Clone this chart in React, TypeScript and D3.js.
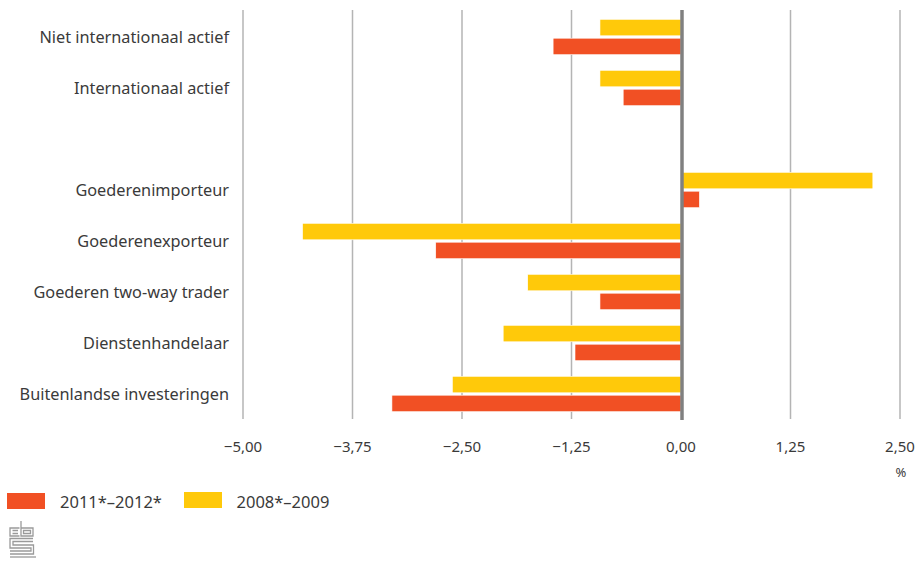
import React from "react";
import * as d3 from "d3";

const categories = [
  "Niet internationaal actief",
  "Internationaal actief",
  "",
  "Goederenimporteur",
  "Goederenexporteur",
  "Goederen two-way trader",
  "Dienstenhandelaar",
  "Buitenlandse investeringen",
];
const series2011: (number | null)[] = [-1.46, -0.66, null, 0.21, -2.8, -0.925, -1.21, -3.3];
const series2008: (number | null)[] = [-0.925, -0.925, null, 2.19, -4.32, -1.75, -2.03, -2.61];
const ticks = [-5, -3.75, -2.5, -1.25, 0, 1.25, 2.5];
const seriesNames = ["2011*–2012*", "2008*–2009"];

const RED = "#f15024";
const YELLOW = "#ffc90a";
const TEXT = "#3a3a3a";
const FONT = "'Noto Sans', sans-serif";

export default function App() {
  const W = 919, H = 561;
  const x = d3.scaleLinear().domain([-5, 2.5]).range([243, 900]);
  const y = d3.scaleBand<string>().domain(categories.map((c, i) => i + "")).range([11.5, 419.5]);
  const barH = 16.5;
  const fmt = (v: number) => d3.format(".2f")(v).replace(".", ",").replace("-", "–");

  return (
    <svg width={W} height={H} style={{ position: "absolute", left: 0, top: 0, background: "#fff" }} fontFamily={FONT}>
      {ticks.filter(t => t !== 0).map(t => (
        <line key={t} x1={x(t)} x2={x(t)} y1={10} y2={419} stroke="#b4b4b4" strokeWidth={1.5} />
      ))}
      {categories.map((c, i) => {
        const cy = (y(i + "") as number) + y.bandwidth() / 2;
        const v1 = series2008[i];
        const v2 = series2011[i];
        return (
          <g key={i}>
            {v1 != null && (
              <rect x={Math.min(x(0), x(v1))} width={Math.abs(x(v1) - x(0))} y={cy - 17.7} height={barH} fill={YELLOW} stroke="#fff" strokeWidth={0.6} />
            )}
            {v2 != null && (
              <rect x={Math.min(x(0), x(v2))} width={Math.abs(x(v2) - x(0))} y={cy + 1.2} height={barH} fill={RED} stroke="#fff" strokeWidth={0.6} />
            )}
            {c && (
              <text x={229} y={cy + 6} textAnchor="end" fontSize={16.3} fill={TEXT}>{c}</text>
            )}
          </g>
        );
      })}
      <line x1={x(0) + 1} x2={x(0) + 1} y1={10} y2={420} stroke="#808080" strokeWidth={3.5} />
      {ticks.map(t => (
        <text key={t} x={x(t)} y={452} textAnchor="middle" fontSize={15} fill={TEXT}>{fmt(t)}</text>
      ))}
      <text x={901} y={477} textAnchor="middle" fontSize={13} fill={TEXT}>%</text>
      <rect x={7} y={493} width={38} height={16} fill={RED} />
      <text x={60} y={508} fontSize={16.5} fill={TEXT}>{seriesNames[0]}</text>
      <rect x={184} y={492} width={38} height={16} fill={YELLOW} />
      <text x={236.5} y={508} fontSize={16.5} fill={TEXT}>{seriesNames[1]}</text>
      <g fill="none" stroke="#9a9a9a" strokeWidth={1.3}>
        <path d="M19.5,528 H10 V536 H19.5" />
        <path d="M12.5,530.5 H18 M12.5,533.5 H18" />
        <path d="M21,521 V536 H33 V528 H21" />
        <path d="M23.5,530.5 H30.5 V533.5 H23.5 Z" />
        <path d="M33,538.5 H10 V548 H31 V551 H10" />
        <path d="M33,541.5 H13 V545 H33.5 V554 H10" />
        <path d="M10,557 H36" />
      </g>
    </svg>
  );
}
